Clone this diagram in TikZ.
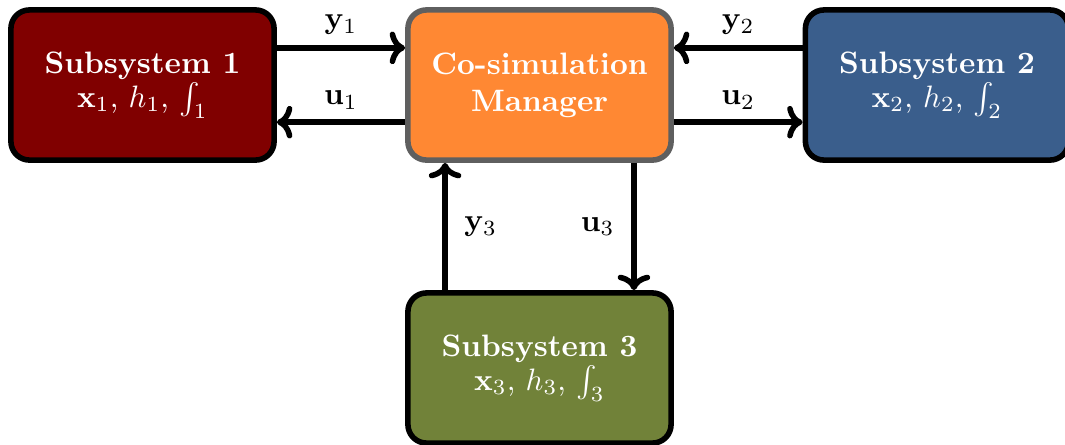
\documentclass[tikz,border=0pt]{standalone}
\usepackage{amsmath,amssymb}
\usetikzlibrary{arrows.meta}
\definecolor{subred}{HTML}{800000}
\definecolor{mgrorange}{HTML}{FF8833}
\definecolor{subblue}{HTML}{3A5E8C}
\definecolor{subolive}{HTML}{718239}
\definecolor{mgrgray}{HTML}{5F5F5F}
\tikzset{
  block/.style={draw=black, line width=1.8pt, rounded corners=6pt,
    text=white, align=center, font=\bfseries, inner sep=0pt,
    minimum width=85pt, minimum height=48.5pt},
  link/.style={line width=1.8pt, -{To[length=5pt,width=10.5pt]}}
}
\begin{document}
\begin{tikzpicture}[x=0.323pt,y=-0.323pt]
\useasboundingbox (0,0) rectangle (1065,444);
% the manager sits in the middle, one subsystem on each side
% and one below it, every pair joined by an output y and an input u
\node[block, fill=mgrorange, draw=mgrgray] (mgr) at (539.5,85)
    {Co-simulation\\ Manager};
\node[block, fill=subred] (sub1) at (142.5,85)
    {Subsystem 1\\[-1pt] {\mdseries $\mathbf{x}_1$, $h_1$, $\int_1$}};
\node[block, fill=subblue] (sub2) at (937,85)
    {Subsystem 2\\[-1pt] {\mdseries $\mathbf{x}_2$, $h_2$, $\int_2$}};
\node[block, fill=subolive] (sub3) at (539.5,368)
    {Subsystem 3\\[-1pt] {\mdseries $\mathbf{x}_3$, $h_3$, $\int_3$}};

% subsystem 1
\draw[link] ([yshift=12pt]sub1.east) -- ([yshift=12pt]mgr.west)
    node[midway, above] {$\mathbf{y}_1$};
\draw[link] ([yshift=-12pt]mgr.west) -- ([yshift=-12pt]sub1.east)
    node[midway, above] {$\mathbf{u}_1$};
% subsystem 2
\draw[link] ([yshift=12pt]sub2.west) -- ([yshift=12pt]mgr.east)
    node[midway, above] {$\mathbf{y}_2$};
\draw[link] ([yshift=-12pt]mgr.east) -- ([yshift=-12pt]sub2.west)
    node[midway, above] {$\mathbf{u}_2$};
% subsystem 3
\draw[link] ([xshift=-30.5pt]sub3.north) -- ([xshift=-30.5pt]mgr.south)
    node[midway, right=2pt] {$\mathbf{y}_3$};
\draw[link] ([xshift=30.5pt]mgr.south) -- ([xshift=30.5pt]sub3.north)
    node[midway, left=2pt] {$\mathbf{u}_3$};
\end{tikzpicture}
\end{document}
